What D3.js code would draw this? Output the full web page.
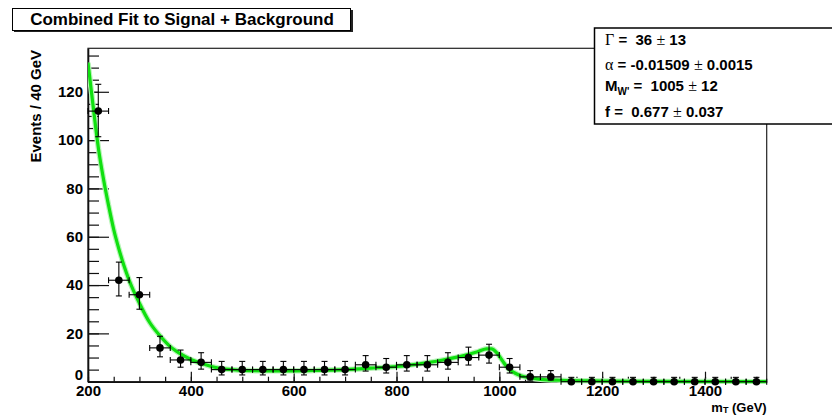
<!DOCTYPE html>
<html><head><meta charset="utf-8">
<script src="https://cdn.jsdelivr.net/npm/d3@7"></script>
<style>
body{margin:0;background:#fff}
svg{display:block}
text{font-family:"Liberation Sans",Arial,Helvetica,sans-serif;font-weight:bold;fill:#000}
</style>
</head><body>
<svg id="chart" width="832" height="416"></svg>
<script>
// ---- data ----
const binCenters = [220,260,300,340,380,420,460,500,540,580,620,660,700,740,780,820,860,900,940,980,1020,1060,1100,1140,1180,1220,1260,1300,1340,1380,1420,1460,1500];
const counts     = [112,42,36,14,9,8,5,5,5,5,5,5,5,7,6,7,7,8,10,11,6,2,2,0,0,0,0,0,0,0,0,0,0];
const errHi      = [11.1,7.5,7.1,4.8,4.1,4.0,3.4,3.4,3.4,3.4,3.4,3.4,3.4,3.8,3.6,3.8,3.8,4.0,4.3,4.5,3.6,2.6,2.6,1.8,1.8,1.8,1.8,1.8,1.8,1.8,1.8,1.8,1.8];
const errLo      = [10.6,6.5,6.0,3.7,3.0,2.8,2.2,2.2,2.2,2.2,2.2,2.2,2.2,2.6,2.4,2.6,2.6,2.8,3.1,3.3,2.4,1.3,1.3,0,0,0,0,0,0,0,0,0,0];
const binHalfWidth = 20;
const fitMass  = [200,210,220,230,240,250,260,270,280,300,320,340,360,380,400,420,440,460,480,500,550,600,650,700,750,800,830,860,890,920,940,960,975,985,995,1005,1017,1030,1043,1060,1080,1120,1200,1300,1520];
const fitValue = [132,114,97,84,73,63,55,48,42,32.5,24.5,19,14.5,11.5,9.2,7.6,6.3,5.4,5.0,4.7,4.5,4.5,4.7,5.0,5.6,6.3,7.0,7.9,9.0,10.3,11.3,12.6,13.6,13.6,12.0,9.0,5.5,3.6,2.4,1.6,1.0,0.6,0.3,0.1,0.02];
const xMajorTicks = [200,400,600,800,1000,1200,1400];
const yMajorTicks = [0,20,40,60,80,100,120];
const xDomain = [200,1520];
const yDomain = [0,138];
const titleText = "Combined Fit to Signal + Background";
const xTitle = ["m","T"," (GeV)"];
const yTitle = "Events / 40 GeV";
const statLines = [
  [{t:"Γ",s:"sym"},{t:" =  36 "},{t:"±",s:"sym"},{t:" 13"}],
  [{t:"α",s:"sym"},{t:" = -0.01509 "},{t:"±",s:"sym"},{t:" 0.0015"}],
  [{t:"M"},{t:"W'",s:"sub"},{t:" =  1005 ",s:"after"},{t:"±",s:"sym"},{t:" 12"}],
  [{t:"f =  0.677 "},{t:"±",s:"sym"},{t:" 0.037"}]
];

// ---- layout ----
const svg = d3.select("#chart");
const L = 88, R = 766.7, T = 48.3, B = 381.7;
const x = d3.scaleLinear().domain(xDomain).range([L, R]);
const y = d3.scaleLinear().domain(yDomain).range([B, T]);

// frame
svg.append("rect").attr("x",L).attr("y",T).attr("width",R-L).attr("height",B-T)
  .attr("fill","none").attr("stroke","#222").attr("stroke-width",1.2);

// minor ticks
const xMinor = d3.range(xDomain[0], xDomain[1]+1, 50);
const yMinor = d3.range(0, yDomain[1], 5);
svg.append("g").attr("transform",`translate(0,${B})`)
  .call(d3.axisBottom(x).tickValues(xMinor).tickSizeInner(-5).tickSizeOuter(0).tickFormat(""))
  .call(g=>g.select(".domain").remove())
  .call(g=>g.selectAll("line").attr("stroke","#111").attr("stroke-width",1.2));
svg.append("g").attr("transform",`translate(${L},0)`)
  .call(d3.axisLeft(y).tickValues(yMinor).tickSizeInner(-11).tickSizeOuter(0).tickFormat(""))
  .call(g=>g.select(".domain").remove())
  .call(g=>g.selectAll("line").attr("stroke","#111").attr("stroke-width",1.2));

// major axes
const xAxis = svg.append("g").attr("transform",`translate(0,${B})`)
  .call(d3.axisBottom(x).tickValues(xMajorTicks).tickSizeInner(-10).tickSizeOuter(0).tickPadding(4).tickFormat(d3.format("d")));
xAxis.select(".domain").attr("stroke","#111").attr("stroke-width",1.6);
xAxis.selectAll("line").attr("stroke","#111").attr("stroke-width",1.2);
xAxis.selectAll("text").style("font-size","15px").style("font-family","'Liberation Sans',Arial,sans-serif").style("font-weight","bold");

const yAxis = svg.append("g").attr("transform",`translate(${L},0)`)
  .call(d3.axisLeft(y).tickValues(yMajorTicks).tickSizeInner(-21).tickSizeOuter(0).tickPadding(5).tickFormat(d3.format("d")));
yAxis.select(".domain").attr("stroke","#111").attr("stroke-width",1.6);
yAxis.selectAll("line").attr("stroke","#111").attr("stroke-width",1.2);
yAxis.selectAll("text").style("font-size","15px").style("font-family","'Liberation Sans',Arial,sans-serif").style("font-weight","bold");
// lift the "0" label a little so it does not collide with the "200" below it
yAxis.selectAll(".tick").filter(d=>d===0).select("text").attr("dy","-0.15em");

// fit curve
const fitData = fitMass.map((m,i)=>({m, v:fitValue[i]}));
svg.append("defs").append("clipPath").attr("id","clip")
  .append("rect").attr("x",L).attr("y",T).attr("width",R-L).attr("height",B-T+2);
const line = d3.line().x(d=>x(d.m)).y(d=>y(d.v)).curve(d3.curveMonotoneX);
svg.append("path").datum(fitData).attr("d",line).attr("clip-path","url(#clip)")
  .attr("fill","none").attr("stroke","#b8f5b8").attr("stroke-width",5.5);
svg.append("path").datum(fitData).attr("d",line).attr("clip-path","url(#clip)")
  .attr("fill","none").attr("stroke","#10e010").attr("stroke-width",3.2);

// data points with error bars
const pts = binCenters.map((c,i)=>({c, n:counts[i], hi:errHi[i], lo:errLo[i]}));
const gp = svg.append("g").attr("stroke","#000").attr("stroke-width",1.1);
const pg = gp.selectAll("g").data(pts).join("g");
pg.append("line").attr("x1",d=>x(d.c-binHalfWidth)).attr("x2",d=>x(d.c+binHalfWidth))
  .attr("y1",d=>y(d.n)).attr("y2",d=>y(d.n));
pg.append("line").attr("x1",d=>x(d.c-binHalfWidth)).attr("x2",d=>x(d.c-binHalfWidth))
  .attr("y1",d=>y(d.n)-3).attr("y2",d=>y(d.n)+3);
pg.append("line").attr("x1",d=>x(d.c+binHalfWidth)).attr("x2",d=>x(d.c+binHalfWidth))
  .attr("y1",d=>y(d.n)-3).attr("y2",d=>y(d.n)+3);
pg.append("line").attr("x1",d=>x(d.c)).attr("x2",d=>x(d.c))
  .attr("y1",d=>y(d.n+d.hi)).attr("y2",d=>y(d.n-d.lo));
pg.append("line").attr("x1",d=>x(d.c)-3).attr("x2",d=>x(d.c)+3)
  .attr("y1",d=>y(d.n+d.hi)).attr("y2",d=>y(d.n+d.hi));
pg.filter(d=>d.lo>0).append("line").attr("x1",d=>x(d.c)-3).attr("x2",d=>x(d.c)+3)
  .attr("y1",d=>y(d.n-d.lo)).attr("y2",d=>y(d.n-d.lo));
pg.append("circle").attr("cx",d=>x(d.c)).attr("cy",d=>y(d.n)).attr("r",3.8)
  .attr("fill","#000").attr("stroke","none");

// axis titles
const xt = svg.append("text").attr("x",R).attr("y",411.5).attr("text-anchor","end").style("font-size","13px");
xt.append("tspan").text(xTitle[0]);
xt.append("tspan").attr("dy",1.5).style("font-size","9px").text(xTitle[1]);
xt.append("tspan").attr("dy",-1.5).text(xTitle[2]);

svg.append("text").attr("transform","translate(41,50) rotate(-90)")
  .attr("text-anchor","end").style("font-size","15px").text(yTitle);

// title box
svg.append("rect").attr("x",14).attr("y",10).attr("width",339).attr("height",22).attr("fill","#222");
svg.append("rect").attr("x",12.5).attr("y",8.5).attr("width",338).attr("height",22)
  .attr("fill","#fff").attr("stroke","#000").attr("stroke-width",1);
svg.append("text").attr("x",182).attr("y",25).attr("text-anchor","middle")
  .style("font-size","17px").text(titleText);

// stats box
svg.append("rect").attr("x",594.5).attr("y",28).attr("width",260).attr("height",96)
  .attr("fill","#fff").attr("stroke","#000").attr("stroke-width",1.5);
const baselines = [45,69.5,91,116.5];
statLines.forEach((parts,i)=>{
  const t = svg.append("text").attr("x",605).attr("y",baselines[i])
    .attr("xml:space","preserve").style("white-space","pre").style("font-size","15px");
  parts.forEach(p=>{
    const s = t.append("tspan").text(p.t);
    if(p.s==="sym") s.style("font-family","'Liberation Serif','Times New Roman',serif").style("font-weight","normal").style("font-size","16px");
    if(p.s==="sub") s.attr("dy",4).style("font-size","10px");
    if(p.s==="after") s.attr("dy",-4);
  });
});
</script>
</body></html>
